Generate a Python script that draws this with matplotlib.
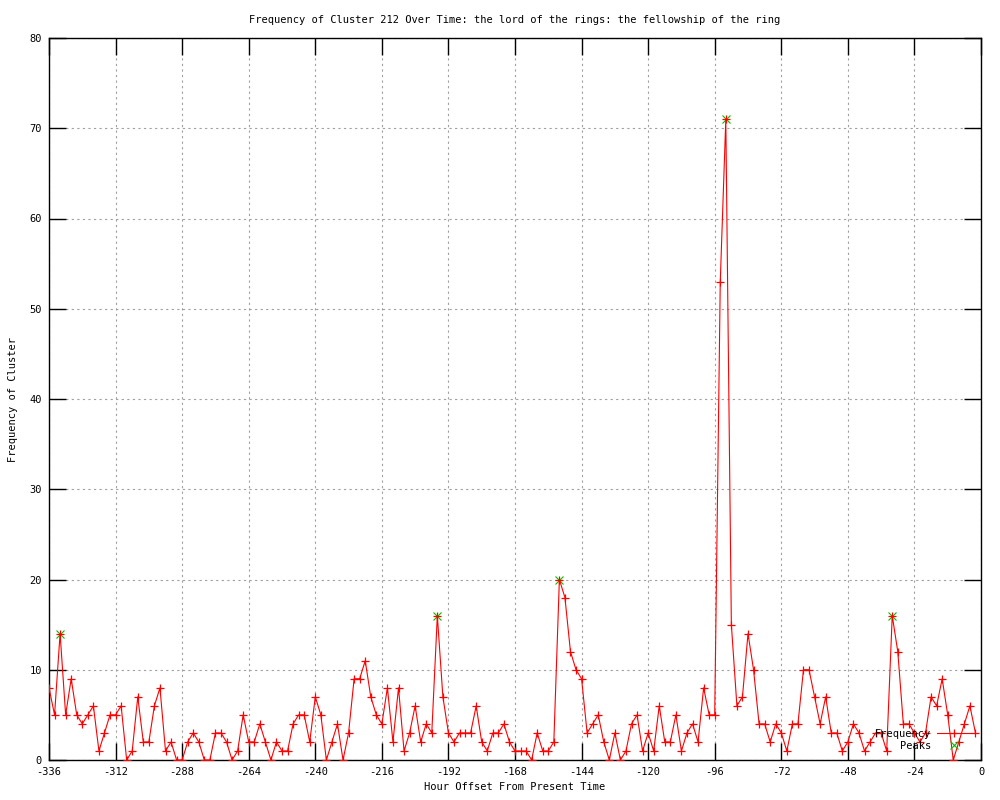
import numpy as np
import matplotlib
matplotlib.use("Agg")
import matplotlib.pyplot as plt

plt.rcParams['font.family'] = ['DejaVu Sans Mono']
plt.rcParams['axes.unicode_minus'] = False

# hour offsets, one sample every 2 hours
hours = list(range(-336, 0, 2))
freq = [
    8, 5, 14, 5, 9, 5, 4, 5, 6, 1, 3, 5,        # -336 .. -314
    5, 6, 0, 1, 7, 2, 2, 6, 8, 1, 2, 0,         # -312 .. -290
    0, 2, 3, 2, 0, 0, 3, 3, 2, 0, 1, 5,         # -288 .. -266
    2, 2, 4, 2, 0, 2, 1, 1, 4, 5, 5, 2,         # -264 .. -242
    7, 5, 0, 2, 4, 0, 3, 9, 9, 11, 7, 5,        # -240 .. -218
    4, 8, 2, 8, 1, 3, 6, 2, 4, 3, 16, 7,        # -216 .. -194
    3, 2, 3, 3, 3, 6, 2, 1, 3, 3, 4, 2,         # -192 .. -170
    1, 1, 1, 0, 3, 1, 1, 2, 20, 18, 12, 10,     # -168 .. -146
    9, 3, 4, 5, 2, 0, 3, 0, 1, 4, 5, 1,         # -144 .. -122
    3, 1, 6, 2, 2, 5, 1, 3, 4, 2, 8, 5,         # -120 .. -98
    5, 53, 71, 15, 6, 7, 14, 10, 4, 4, 2, 4,    # -96 .. -74
    3, 1, 4, 4, 10, 10, 7, 4, 7, 3, 3, 1,       # -72 .. -50
    2, 4, 3, 1, 2, 3, 3, 1, 16, 12, 4, 4,       # -48 .. -26
    3, 2, 3, 7, 6, 9, 5, 0, 2, 4, 6, 3,         # -24 .. -2
]

peak_hours = [-332, -196, -152, -92, -32]
peak_freq = [14, 16, 20, 71, 16]

xticks = list(range(-336, 1, 24))
yticks = list(range(0, 81, 10))

fig = plt.figure(figsize=(10, 8), dpi=100)
ax = fig.add_axes([0.049, 0.05, 0.932, 0.9025])

ax.plot(peak_hours, peak_freq, linestyle='none', marker='x', color='#00c000',
        markersize=5.5, markeredgewidth=0.8, label='Peaks', zorder=2)
ax.plot(hours, freq, color='red', linewidth=0.8, marker='+', markersize=6,
        markeredgewidth=0.9, label='Frequency', zorder=3)

ax.set_xlim(-336, 0)
ax.set_ylim(0, 80)
ax.set_xticks(xticks)
ax.set_yticks(yticks)
ax.tick_params(direction='in', length=12, width=1, labelsize=7.5,
               top=True, right=True, pad=5)
ax.grid(True, color='#a0a0a0', linestyle=(0, (2, 3)), linewidth=0.8)
for s in ax.spines.values():
    s.set_linewidth(1)

ax.set_title('Frequency of Cluster 212 Over Time: the lord of the rings: the fellowship of the ring',
             fontsize=7.5, pad=11)
ax.set_xlabel('Hour Offset From Present Time', fontsize=7.5, labelpad=4)
ax.set_ylabel('Frequency of Cluster', fontsize=7.5, labelpad=8)

handles, labels = ax.get_legend_handles_labels()
ax.legend(handles[::-1], labels[::-1], loc='lower right', bbox_to_anchor=(0.999, 0.0),
          frameon=False, markerfirst=False, fontsize=7.5, handlelength=3.2,
          labelspacing=0.2, handletextpad=0.6)

fig.savefig('out.png', dpi=100)
